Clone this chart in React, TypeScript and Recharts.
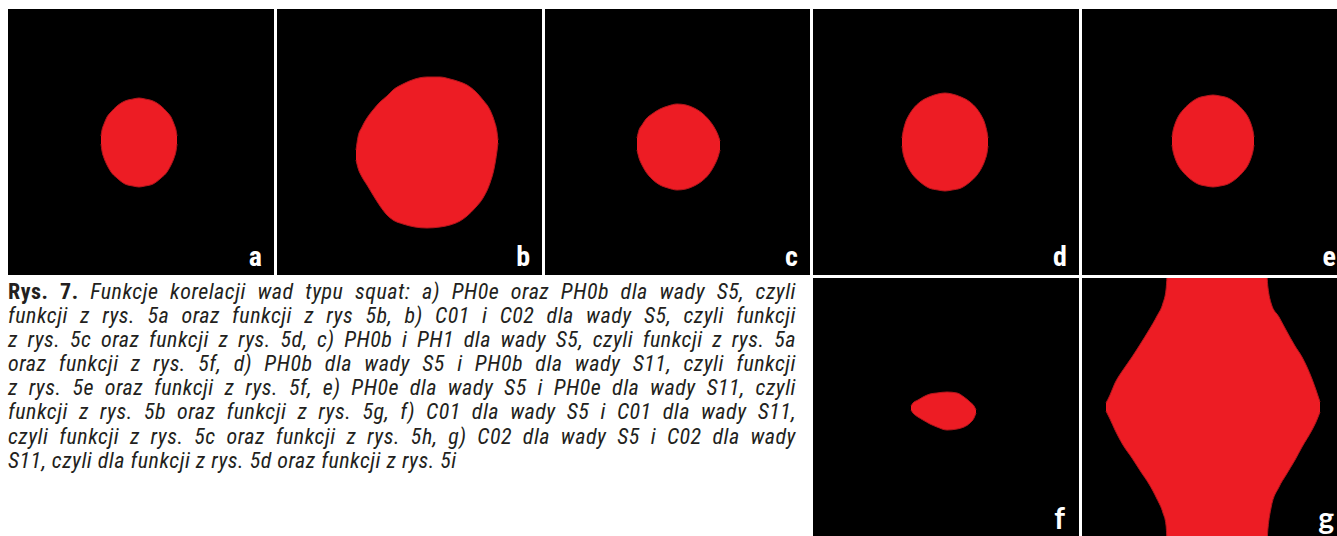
import { Area, ComposedChart, XAxis, YAxis } from "recharts";

const RED = "#ed1c24";
const FONT = '"Liberation Sans Narrow", "Roboto Condensed", "DejaVu Sans Condensed", "Liberation Sans", sans-serif';

// contour of each blob, panel-local px: x, upper edge, lower edge
const A_X = [93, 94, 96, 99, 103, 109, 117, 125, 131, 137, 145, 153, 159, 163, 166, 168, 169];
const A_TOP = [127, 121, 115, 108, 103, 97, 92, 90, 89, 90, 92, 97, 103, 108, 115, 121, 127];
const A_BOTTOM = [135, 142, 149, 156, 163, 169, 175, 177, 178, 177, 175, 169, 163, 156, 149, 142, 135];

const B_X = [79, 81, 85, 90, 96, 103, 110, 116, 126, 138, 150, 163, 173, 183, 190, 199, 206, 213, 217, 220, 221];
const B_TOP = [141, 128, 118, 109, 101, 93, 87, 81, 75, 70, 68, 68, 70, 73, 76, 83, 91, 101, 111, 123, 131];
const B_BOTTOM = [151, 159, 168, 176, 186, 197, 206, 211, 215, 218, 219, 218, 216, 212, 207, 198, 189, 174, 160, 142, 134];

const C_X = [92, 94, 97, 101, 107, 115, 123, 132, 141, 149, 157, 164, 169, 173, 175];
const C_TOP = [129, 121, 116, 110, 105, 100, 97, 95, 96, 99, 104, 111, 118, 126, 132];
const C_BOTTOM = [141, 149, 156, 163, 170, 176, 179, 181, 180, 177, 172, 165, 157, 148, 141];

const D_X = [89, 90, 92, 96, 100, 107, 116, 125, 132, 139, 148, 157, 164, 168, 172, 174, 175];
const D_TOP = [129, 123, 115, 106, 100, 93, 88, 85, 84, 85, 88, 93, 100, 106, 115, 123, 129];
const D_BOTTOM = [137, 144, 151, 160, 166, 173, 179, 181, 182, 181, 179, 173, 166, 160, 151, 144, 137];

const E_X = [90, 91, 93, 96, 101, 107, 116, 124, 131, 138, 146, 155, 161, 166, 169, 171, 172];
const E_TOP = [128, 122, 115, 108, 101, 95, 89, 87, 86, 87, 89, 95, 101, 108, 115, 122, 128];
const E_BOTTOM = [136, 142, 149, 156, 163, 169, 175, 177, 178, 177, 175, 169, 163, 156, 149, 142, 136];

const F_X = [98, 100, 105, 110, 117, 124, 134, 144, 151, 157, 161, 163];
const F_TOP = [128, 125, 122, 119, 116, 115, 114, 115, 119, 124, 128, 132];
const F_BOTTOM = [132, 135, 139, 142, 146, 149, 152, 151, 149, 145, 140, 135];

const G_X = [24, 28, 33, 41, 50, 59, 67, 75, 81, 84, 86, 184, 186, 189, 197, 204, 213, 220, 230, 234, 238];
const G_TOP = [125, 117, 105, 92, 79, 65, 52, 38, 25, 12, -10, -10, 10, 25, 39, 52, 68, 79, 101, 112, 124];
const G_BOTTOM = [133, 141, 152, 167, 180, 194, 206, 221, 235, 247, 276, 276, 250, 230, 209, 197, 182, 169, 152, 144, 134];

const CAPTION_LINES = [
  "Funkcje korelacji wad typu squat: a) PH0e oraz PH0b dla wady S5, czyli",
  "funkcji z rys. 5a oraz funkcji z rys 5b, b) C01 i C02 dla wady S5, czyli funkcji",
  "z rys. 5c oraz funkcji z rys. 5d, c) PH0b i PH1 dla wady S5, czyli funkcji z rys. 5a",
  "oraz funkcji z rys. 5f, d) PH0b dla wady S5 i PH0b dla wady S11, czyli funkcji",
  "z rys. 5e oraz funkcji z rys. 5f, e) PH0e dla wady S5 i PH0e dla wady S11, czyli",
  "funkcji z rys. 5b oraz funkcji z rys. 5g, f) C01 dla wady S5 i C01 dla wady S11,",
  "czyli funkcji z rys. 5c oraz funkcji z rys. 5h, g) C02 dla wady S5 i C02 dla wady",
  "S11, czyli dla funkcji z rys. 5d oraz funkcji z rys. 5i",
];

type Row = { x: number; range: [number, number] };

function toRows(xs: number[], tops: number[], bottoms: number[]): Row[] {
  return xs.map((x, i) => ({ x, range: [tops[i], bottoms[i]] }));
}

const PANELS = [
  { label: "a", left: 8, top: 9, width: 266, rows: toRows(A_X, A_TOP, A_BOTTOM) },
  { label: "b", left: 277, top: 9, width: 265, rows: toRows(B_X, B_TOP, B_BOTTOM) },
  { label: "c", left: 545, top: 9, width: 265, rows: toRows(C_X, C_TOP, C_BOTTOM) },
  { label: "d", left: 813, top: 9, width: 266, rows: toRows(D_X, D_TOP, D_BOTTOM) },
  { label: "e", left: 1082, top: 9, width: 266, rows: toRows(E_X, E_TOP, E_BOTTOM) },
  { label: "f", left: 813, top: 278, width: 266, rows: toRows(F_X, F_TOP, F_BOTTOM), alt: true },
  { label: "g", left: 1082, top: 278, width: 266, rows: toRows(G_X, G_TOP, G_BOTTOM), alt: true },
];

const PANEL_H = 266;

function Panel({ p }: { p: (typeof PANELS)[number] }) {
  return (
    <div
      style={{
        position: "absolute",
        left: p.left,
        top: p.top,
        width: p.width,
        height: PANEL_H,
        background: "#000",
      }}
    >
      <ComposedChart
        width={p.width}
        height={PANEL_H}
        data={p.rows}
        margin={{ top: 0, right: 0, bottom: 0, left: 0 }}
      >
        <XAxis dataKey="x" type="number" domain={[0, p.width]} hide allowDataOverflow />
        <YAxis type="number" domain={[0, PANEL_H]} reversed hide allowDataOverflow />
        <Area
          dataKey="range"
          type="monotone"
          stroke="#b3161c"
          strokeWidth={1}
          fill={RED}
          fillOpacity={1}
          dot={false}
          activeDot={false}
          isAnimationActive={false}
        />
      </ComposedChart>
      <span
        style={{
          position: "absolute",
          right: p.alt ? 14 : 12,
          bottom: p.alt ? 12 : 4,
          color: "#fff",
          fontFamily: p.alt ? "Lato, sans-serif" : FONT,
          fontWeight: 700,
          fontSize: p.alt ? 30 : 28,
          lineHeight: p.alt ? "30px" : "28px",
        }}
      >
        {p.label}
      </span>
    </div>
  );
}

export default function App() {
  return (
    <div
      style={{
        position: "relative",
        width: 1337,
        height: 536,
        overflow: "hidden",
        background: "#fff",
      }}
    >
      <style>{"body{margin:0;overflow:hidden}"}</style>
      {PANELS.map((p) => (
        <Panel key={p.label} p={p} />
      ))}
      <div
        style={{
          position: "absolute",
          left: 8,
          top: 280,
          width: 788,
          fontFamily: FONT,
          fontSize: 22,
          letterSpacing: 0.5,
          lineHeight: "24.1px",
          color: "#231f20",
        }}
      >
        {CAPTION_LINES.map((line, i) => (
          <div
            key={i}
            style={{
              textAlign: "justify",
              textAlignLast: i === CAPTION_LINES.length - 1 ? "left" : "justify",
              whiteSpace: "nowrap",
            }}
          >
            {i === 0 && <span style={{ fontWeight: 700 }}>Rys. 7. </span>}
            <span style={{ fontStyle: "italic" }}>{line}</span>
          </div>
        ))}
      </div>
    </div>
  );
}
